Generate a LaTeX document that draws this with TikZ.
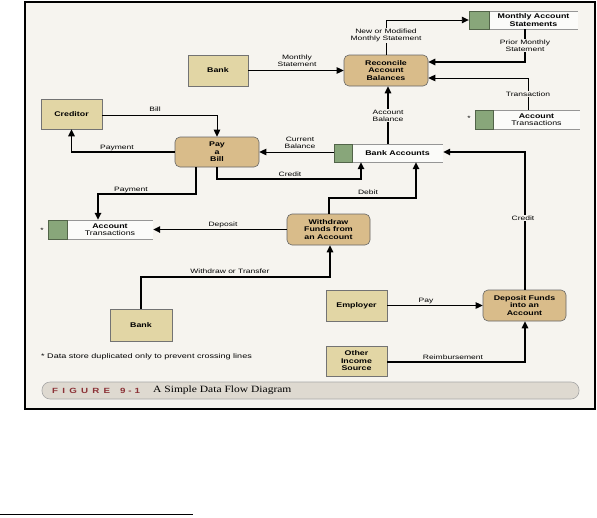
\documentclass[tikz,border=0pt]{standalone}
\usepackage{fontspec}
\setmainfont{Liberation Sans}
\newfontfamily\boxfont[FakeStretch=1.3]{Liberation Sans}
\newfontfamily\lblfont[FakeStretch=1.35]{Liberation Sans}
\newfontfamily\capfont[FakeStretch=1.2]{Liberation Serif}
\usetikzlibrary{arrows.meta,calc}
\definecolor{paper}{RGB}{246,244,239}
\definecolor{entfill}{RGB}{226,214,165}
\definecolor{procfill}{RGB}{217,188,138}
\definecolor{stgreen}{RGB}{136,166,122}
\definecolor{stline}{RGB}{150,150,150}
\definecolor{figred}{RGB}{140,50,55}
\definecolor{barfill}{RGB}{222,217,208}
\tikzset{
  entity/.style={draw=black!55,line width=0.6pt,fill=entfill,minimum width=#1,minimum height=31pt,inner sep=1pt,align=center,font=\boxfont\fontsize{6.8}{7.5}\selectfont\bfseries},
  entity/.default=61pt,
  proc/.style={draw=black!60,line width=0.6pt,fill=procfill,rounded corners=5pt,minimum width=84pt,minimum height=31pt,inner sep=1pt,align=center,font=\boxfont\fontsize{6.8}{7.5}\selectfont\bfseries},
  storebox/.style={draw=none,fill=white!60!paper,minimum height=18pt,minimum width=#1,inner sep=0pt},
  storetext/.style={align=center,font=\boxfont\fontsize{6.8}{7.5}\selectfont\bfseries,inner sep=0pt},
  lbl/.style={align=center,font=\lblfont\fontsize{6.3}{7}\selectfont,inner sep=1pt},
  lblbg/.style={lbl,fill=paper},
  flowthick/.style={line width=1.5pt,-{Triangle[length=7pt,width=6.5pt]}},
  flowthin/.style={line width=0.9pt,-{Triangle[length=7pt,width=6.5pt]}},
}
\newcommand{\drawstore}[4]{% name, green width, text, text name
  \draw[stline,line width=0.5pt] (#1.north west) -- (#1.north east) (#1.south west) -- (#1.south east);
  \filldraw[fill=stgreen,draw=stgreen!60!black,line width=0.5pt] (#1.north west) rectangle ([xshift=#2]#1.south west);
  \node[storetext] (#4) at ($([xshift=#2]#1.west)!0.5!(#1.east)$) {#3};
}
\begin{document}
\begin{tikzpicture}[x=1pt,y=-1pt]
\useasboundingbox (0,0) rectangle (597,517);
\fill[white] (0,0) rectangle (597,517);
\filldraw[fill=paper,draw=black,line width=1.2pt] (25,2) rectangle (595,409);

% entities
\node[entity=60pt] (bankT) at (218,70.5) {Bank};
\node[entity=61pt,minimum height=30pt] (cred) at (71.5,114) {Creditor};
\node[entity=62pt,minimum height=32pt] (bankB) at (141,325) {Bank};
\node[entity=61pt] (emp) at (356.5,305.5) {Employer};
\node[entity=61pt,minimum height=30pt] (other) at (356.5,361) {Other\\Income\\Source};

% processes
\node[proc] (recon) at (386,70.5) {Reconcile\\Account\\Balances};
\node[proc,minimum height=30pt] (pay) at (217,152) {Pay\\a\\Bill};
\node[proc,minimum width=83pt] (wd) at (328.5,229.5) {Withdraw\\Funds from\\an Account};
\node[proc,minimum width=83pt] (dep) at (524.5,305.5) {Deposit Funds\\into an\\Account};

% data stores
\node[storebox=109pt] (mas) at (523.5,20) {};
\drawstore{mas}{20pt}{Monthly Account\\Statements}{mastext}
\node[storebox=109pt] (ba) at (388.5,153) {};
\drawstore{ba}{18pt}{Bank Accounts}{batext}
\node[storebox=105pt,minimum height=19pt] (atR) at (527.5,119.5) {};
\drawstore{atR}{18pt}{Account\\{\mdseries Transactions}}{atRtext}
\node[storebox=105pt,minimum height=19pt] (atL) at (100.5,229.5) {};
\drawstore{atL}{19pt}{Account\\{\mdseries Transactions}}{atLtext}
\node[lbl] (astR) at (469,118) {*};
\node[lbl] (astL) at (42,230) {*};

% flows
\draw[flowthin] (bankT.east) -- (recon.west);
\node[lbl] (lms) at (297,61) {Monthly\\Statement};

\coordinate (nm1) at (386,20);
\draw[flowthin] (recon.north -| nm1) -- (nm1) -- (mas.west |- nm1);
\node[lblbg] (lnm) at (386,35.5) {New or Modified\\Monthly Statement};

\coordinate (pm1) at (525,62);
\draw[flowthick] (mas.south -| pm1) -- (pm1) -- (recon.east |- pm1);
\node[lblbg] (lpm) at (525,45.5) {Prior Monthly\\Statement};

\coordinate (tr1) at (528,78);
\draw[flowthin] (atR.north -| tr1) -- (tr1) -- (recon.east |- tr1);
\node[lblbg] (ltr) at (528,94) {Transaction};

\coordinate (ab1) at (388,100);
\draw[flowthick] (ba.north -| ab1) -- (recon.south -| ab1);
\node[lblbg] (lab) at (388,115.5) {Account\\Balance};

\draw[flowthin] (ba.west |- pay.east) -- (pay.east);
\node[lbl] (lcb) at (300,143) {Current\\Balance};

\coordinate (bl1) at (217,115);
\draw[flowthin] (cred.east |- bl1) -- (bl1) -- (pay.north);
\node[lbl] (lbl1) at (155,109.5) {Bill};

\coordinate (py1) at (71.5,152);
\draw[flowthick] (pay.west) -- (py1) -- (cred.south);
\node[lbl] (lpy1) at (117,147.5) {Payment};

\coordinate (cr1) at (217,179);
\coordinate (cr2) at (361,179);
\draw[flowthick] (pay.south) -- (cr1) -- (cr2) -- (ba.south -| cr2);
\node[lbl] (lcr1) at (290,174.5) {Credit};

\coordinate (py2) at (196,194);
\coordinate (py3) at (98,194);
\draw[flowthick] (pay.south -| py2) -- (py2) -- (py3) -- (atL.north -| py3);
\node[lbl] (lpy2) at (131,189.5) {Payment};

\coordinate (db1) at (329,198);
\coordinate (db2) at (416,198);
\draw[flowthick] (wd.north -| db1) -- (db1) -- (db2) -- (ba.south -| db2);
\node[lbl] (ldb) at (368,192.5) {Debit};

\draw[flowthick] (wd.west) -- (atL.east |- wd.west);
\node[lbl] (ldp) at (223,224.5) {Deposit};

\coordinate (wt1) at (141,277);
\coordinate (wt2) at (330,277);
\draw[flowthick] (bankB.north) -- (wt1) -- (wt2) -- (wd.south -| wt2);
\node[lbl] (lwt) at (230,271.5) {Withdraw or Transfer};

\draw[flowthin] (emp.east) -- (dep.west);
\node[lbl] (lpay) at (426,301) {Pay};

\coordinate (rb1) at (525,362);
\draw[flowthick] (other.east |- rb1) -- (rb1) -- (dep.south -| rb1);
\node[lbl] (lrb) at (453,357) {Reimbursement};

\coordinate (dc1) at (525,152);
\draw[flowthick] (dep.north -| dc1) -- (dc1) -- (ba.east |- dc1);
\node[lblbg] (ldc) at (523,218) {Credit};

% footnote and caption
\node[lbl,anchor=west,font=\lblfont\fontsize{6.7}{7.5}\selectfont] (foot) at (40,357) {* Data store duplicated only to prevent crossing lines};
\filldraw[fill=barfill,draw=black!35,line width=0.6pt,rounded corners=8pt] (42,382) rectangle (579,399);
\node[anchor=west,inner sep=0pt,font=\boxfont\fontsize{7.5}{8}\selectfont\bfseries,text=figred] (figno) at (52,390.5) {F\hspace{4.2pt}I\hspace{4.2pt}G\hspace{4.2pt}U\hspace{4.2pt}R\hspace{4.2pt}E\hspace{10pt}9\hspace{3pt}-\hspace{3pt}1};
\node[anchor=west,inner sep=0pt,font=\capfont\fontsize{9.6}{10}\selectfont] (figcap) at (153,390.5) {A Simple Data Flow Diagram};

\draw[line width=1pt] (0,514) coordinate (fl1) -- (193,514) coordinate (fl2);
\end{tikzpicture}
\end{document}
